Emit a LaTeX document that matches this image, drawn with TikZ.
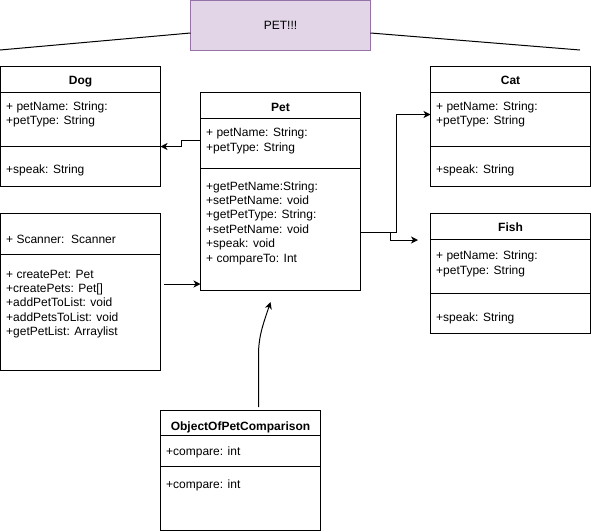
\documentclass[tikz,border=0pt]{standalone}
\usepackage{fontspec}
\setmainfont{Liberation Sans}
\usetikzlibrary{arrows.meta}
\definecolor{purplefill}{HTML}{E1D5E7}
\definecolor{purpledraw}{HTML}{9673A6}
\tikzset{
  box/.style={draw=black, line width=1pt, anchor=north west, inner sep=0pt, outer sep=0pt},
  sep/.style={draw=black, line width=1pt},
  txt/.style={anchor=base west, inner sep=0pt, font=\fontsize{12}{14.4}\selectfont},
  ttl/.style={anchor=base, inner sep=0pt, font=\fontsize{12}{14.4}\selectfont\bfseries},
  conn/.style={draw=black, line width=1pt},
  arr/.style={conn, -{Stealth[length=7pt,width=7pt,inset=2pt]}},
}
\begin{document}
\begin{tikzpicture}[x=1pt,y=-1pt]
\useasboundingbox (0,0) rectangle (591,531);

% title banner
\node[box, draw=purpledraw, fill=purplefill, minimum width=180, minimum height=50,
      font=\fontsize{12}{14.4}\selectfont] (banner) at (190.5,0.5) {PET!!!};
\coordinate (bl) at (0,50);
\coordinate (br) at (580,50);
\draw[conn] (banner.south west |- 0,33) -- (bl);
\draw[conn] (banner.south east |- 0,33) -- (br);

% Dog
\node[box, minimum width=160, minimum height=120] (dog) at (0.5,66.5) {};
\draw[sep] (0.5,92.5) -- (160.5,92.5);
\draw[sep] (0.5,146.5) -- (160.5,146.5);
\node[ttl] (dogt) at (80.5,84.5) {Dog};
\node[txt] (doga1) at (6,110.5) {+ petName: String:};
\node[txt] (doga2) at (6,124.5) {+petType: String};
\node[txt] (dogm1) at (6,173) {+speak: String};

% Cat
\node[box, minimum width=160, minimum height=120] (cat) at (430.5,66.5) {};
\draw[sep] (430.5,92.5) -- (590.5,92.5);
\draw[sep] (430.5,146.5) -- (590.5,146.5);
\node[ttl] (catt) at (510.5,84.5) {Cat};
\node[txt] (cata1) at (436,110.5) {+ petName: String:};
\node[txt] (cata2) at (436,124.5) {+petType: String};
\node[txt] (catm1) at (436,173) {+speak: String};

% Fish
\node[box, minimum width=160, minimum height=120] (fish) at (430.5,213) {};
\draw[sep] (430.5,239.5) -- (590.5,239.5);
\draw[sep] (430.5,293.5) -- (590.5,293.5);
\node[ttl] (fisht) at (510.5,231.5) {Fish};
\node[txt] (fisha1) at (436,259.5) {+ petName: String:};
\node[txt] (fisha2) at (436,274) {+petType: String};
\node[txt] (fishm1) at (436,321) {+speak: String};

% Pet
\node[box, minimum width=160, minimum height=198] (pet) at (200.5,92.5) {};
\draw[sep] (200.5,118.5) -- (360.5,118.5);
\draw[sep] (200.5,168.5) -- (360.5,168.5);
\node[ttl] (pett) at (280.5,111.5) {Pet};
\node[txt] (peta1) at (206,136.7) {+ petName: String:};
\node[txt] (peta2) at (206,151) {+petType: String};
\node[txt] (petm1) at (206,190) {+getPetName:String:};
\node[txt] (petm2) at (206,204.4) {+setPetName: void};
\node[txt] (petm3) at (206,218.8) {+getPetType: String:};
\node[txt] (petm4) at (206,233.2) {+setPetName: void};
\node[txt] (petm5) at (206,247.6) {+speak: void};
\node[txt] (petm6) at (206,262) {+ compareTo: Int};

% Scanner class
\node[box, minimum width=160, minimum height=157] (scan) at (0.5,213.5) {};
\draw[sep] (0.5,254) -- (160.5,254);
\node[txt] (scana1) at (6,243.3) {+ Scanner:\ \ Scanner};
\node[txt] (scanm1) at (6,278) {+ createPet: Pet};
\node[txt] (scanm2) at (6,292.4) {+createPets: Pet[]};
\node[txt] (scanm3) at (6,306.8) {+addPetToList: void};
\node[txt] (scanm4) at (6,321.2) {+addPetsToList: void};
\node[txt] (scanm5) at (6,335.6) {+getPetList: Arraylist};

% ObjectOfPetComparison
\node[box, minimum width=160, minimum height=120] (obj) at (160.5,410.5) {};
\draw[sep] (160.5,435.5) -- (320.5,435.5);
\draw[sep] (160.5,466.5) -- (320.5,466.5);
\node[ttl] (objt) at (240.5,430.3) {ObjectOfPetComparison};
\node[txt] (obja1) at (166,455) {+compare: int};
\node[txt] (objm1) at (166,488.5) {+compare: int};

% connectors
\coordinate (pdy) at (0,140.5);
\coordinate (dgy) at (0,146.5);
\draw[arr] (pet.west |- pdy) -- (181,140.5) -- (181,146.5) -- (dog.east |- dgy);

\coordinate (pcy) at (0,232.5);
\coordinate (cty) at (0,114.5);
\draw[arr] (pet.east |- pcy) -- (396,232.5) -- (396,114.5) -- (cat.west |- cty);

\coordinate (fishend) at (418,240);
\draw[arr] (pet.east |- pcy) -- (390,232.5) -- (390,240) -- (fishend);

\coordinate (scanstart) at (164,284);
\draw[arr] (scanstart) -- (pet.west |- scanstart);

\coordinate (objstart) at (258.5,407);
\coordinate (petend) at (270.5,302);
\draw[arr] (objstart) -- (258.5,355) .. controls (258.5,335) and (264,322) .. (petend);
\end{tikzpicture}
\end{document}
